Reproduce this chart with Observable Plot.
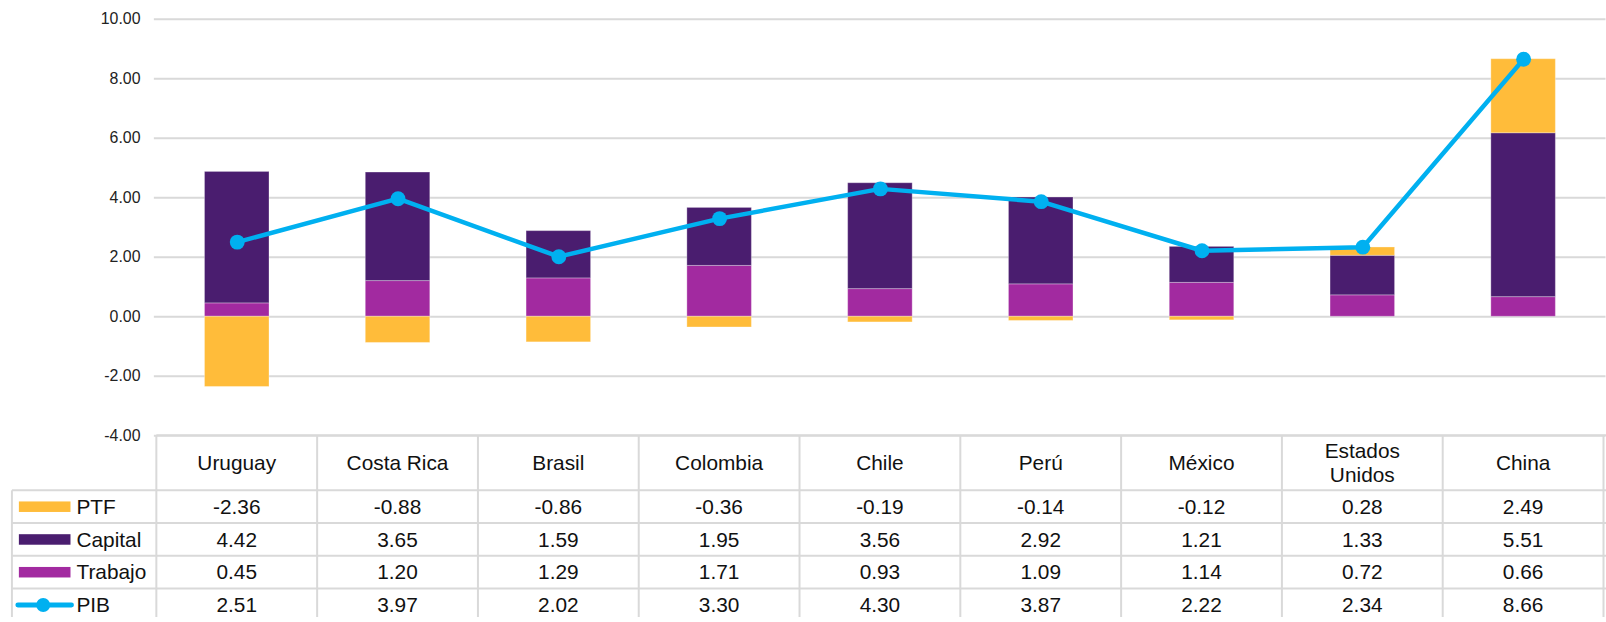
<!DOCTYPE html>
<html>
<head>
<meta charset="utf-8">
<script src="https://cdn.jsdelivr.net/npm/d3@7"></script>
<script src="https://cdn.jsdelivr.net/npm/@observablehq/plot@0.6"></script>
<style>
  html, body { margin: 0; padding: 0; overflow: hidden; background: #fff; }
  #chart svg { display: block; }
</style>
</head>
<body>
<div id="chart"></div>
<script>
// ---- data ----
const countries = ["Uruguay", "Costa Rica", "Brasil", "Colombia", "Chile", "Perú", "México", "Estados Unidos", "China"];
const headerLines = [["Uruguay"], ["Costa Rica"], ["Brasil"], ["Colombia"], ["Chile"], ["Perú"], ["México"], ["Estados", "Unidos"], ["China"]];
const ptf     = [-2.36, -0.88, -0.86, -0.36, -0.19, -0.14, -0.12, 0.28, 2.49];
const capital = [ 4.42,  3.65,  1.59,  1.95,  3.56,  2.92,  1.21, 1.33, 5.51];
const trabajo = [ 0.45,  1.20,  1.29,  1.71,  0.93,  1.09,  1.14, 0.72, 0.66];
const pib     = [ 2.51,  3.97,  2.02,  3.30,  4.30,  3.87,  2.22, 2.34, 8.66];
const seriesNames = ["PTF", "Capital", "Trabajo", "PIB"];
const seriesColors = ["#FFBC3A", "#4A1D6F", "#A22AA0", "#00B0F0"];
const yTicks = [-4, -2, 0, 2, 4, 6, 8, 10];

// ---- build tables for the library ----
const stacked = [];
countries.forEach((c, i) => {
  stacked.push({country: c, series: "Trabajo", value: trabajo[i]});
  stacked.push({country: c, series: "Capital", value: capital[i]});
  stacked.push({country: c, series: "PTF", value: ptf[i]});
});
const pibData = countries.map((c, i) => ({country: c, value: pib[i]}));
const fmt = v => v.toFixed(2);

const W = 1618, H = 622;
const chart = Plot.plot({
  width: W,
  height: H,
  marginLeft: 155,
  marginRight: 0.5,
  marginTop: 19,
  marginBottom: H - 438.5,
  style: {fontFamily: "'Liberation Sans', Arial, sans-serif", fontSize: "16px", color: "#222", background: "#fff"},
  x: {domain: countries, paddingInner: 0.6, paddingOuter: 0.3, axis: null},
  y: {domain: [-4, 10], axis: null},
  color: {domain: seriesNames, range: seriesColors},
  marks: [
    Plot.gridY(yTicks, {stroke: "#d9d9d9", strokeOpacity: 1, strokeWidth: 2}),
    Plot.barY(stacked, Plot.stackY({x: "country", y: "value", fill: "series", order: ["Trabajo", "Capital", "PTF"], stroke: "#ffffff", strokeOpacity: 0.3, strokeWidth: 1})),
    Plot.line(pibData, {x: "country", y: "value", stroke: seriesColors[3], strokeWidth: 4.5}),
    Plot.dot(pibData, {x: "country", y: "value", fill: seriesColors[3], r: 7.5}),
    Plot.axisY(yTicks, {tickSize: 0, tickPadding: 14, tickFormat: fmt, label: null, fontSize: 16})
  ]
});
document.getElementById("chart").appendChild(chart);

// ---- data table below the chart, positioned by the plot's scales ----
const xs = chart.scale("x");
const ys = chart.scale("y");
const step = xs.step;
const centers = countries.map(c => xs.apply(c) + xs.bandwidth / 2);
const bounds = [];
for (let i = 0; i <= countries.length; i++) bounds.push(centers[0] - step / 2 + i * step);
const tableTop = ys.apply(-4);
const headerH = 55.5, rowH = 33;
const legendLeft = 12;
const rightEdge = W;
const gridColor = "#d9d9d9";

const svg = d3.select(chart);
const g = svg.append("g").attr("font-family", "'Liberation Sans', Arial, sans-serif").attr("fill", "#111");

// horizontal lines
g.append("line").attr("x1", bounds[0]).attr("x2", rightEdge).attr("y1", tableTop).attr("y2", tableTop)
  .attr("stroke", gridColor).attr("stroke-width", 2);
for (let k = 0; k <= seriesNames.length; k++) {
  const y = tableTop + headerH + k * rowH;
  g.append("line").attr("x1", legendLeft).attr("x2", rightEdge).attr("y1", y).attr("y2", y)
    .attr("stroke", gridColor).attr("stroke-width", 2);
}
// vertical lines
g.append("line").attr("x1", legendLeft).attr("x2", legendLeft).attr("y1", tableTop + headerH).attr("y2", H + 10)
  .attr("stroke", gridColor).attr("stroke-width", 2);
bounds.forEach(x => {
  g.append("line").attr("x1", x).attr("x2", x).attr("y1", tableTop).attr("y2", H + 10)
    .attr("stroke", gridColor).attr("stroke-width", 2);
});

// header text
headerLines.forEach((lines, i) => {
  const cy = tableTop + headerH / 2;
  lines.forEach((t, j) => {
    g.append("text").attr("x", centers[i]).attr("y", cy + (j - (lines.length - 1) / 2) * 24)
      .attr("dy", "0.35em").attr("text-anchor", "middle").attr("font-size", 21).text(t);
  });
});

// rows
const rowValues = [ptf, capital, trabajo, pib];
rowValues.forEach((vals, k) => {
  const cy = tableTop + headerH + k * rowH + rowH / 2;
  vals.forEach((v, i) => {
    g.append("text").attr("x", centers[i]).attr("y", cy).attr("dy", "0.35em")
      .attr("text-anchor", "middle").attr("font-size", 21).text(fmt(v));
  });
  // legend key
  if (seriesNames[k] === "PIB") {
    g.append("line").attr("x1", 18).attr("x2", 72).attr("y1", cy).attr("y2", cy)
      .attr("stroke", seriesColors[k]).attr("stroke-width", 5).attr("stroke-linecap", "round");
    g.append("circle").attr("cx", 43.5).attr("cy", cy).attr("r", 7).attr("fill", seriesColors[k]);
  } else {
    g.append("rect").attr("x", 19).attr("y", cy - 5.3).attr("width", 52).attr("height", 10.6)
      .attr("fill", seriesColors[k]);
  }
  g.append("text").attr("x", 77).attr("y", cy).attr("dy", "0.35em").attr("text-anchor", "start")
    .attr("font-size", 21).text(seriesNames[k]);
});
</script>
</body>
</html>
